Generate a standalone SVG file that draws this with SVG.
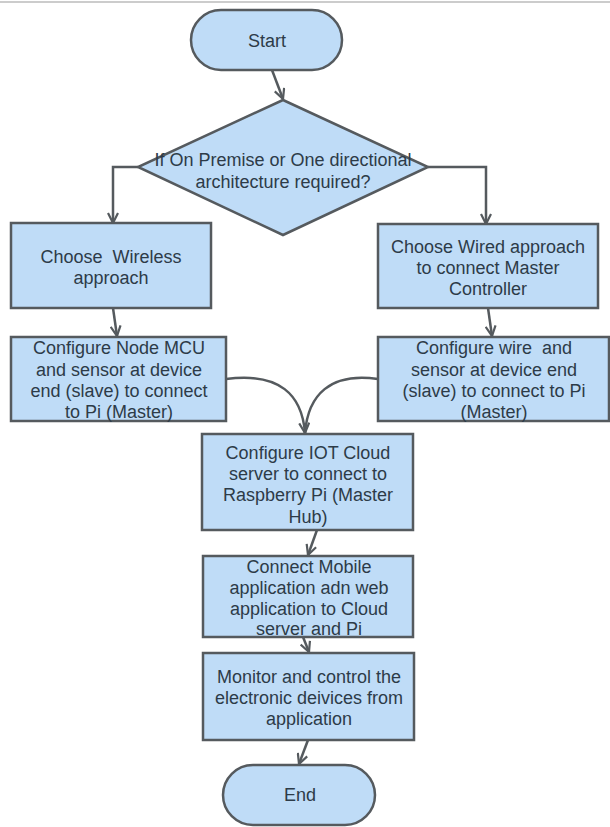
<svg xmlns="http://www.w3.org/2000/svg" width="610" height="827" viewBox="0 0 610 827">
<defs>
<style>
.shape{fill:#bfdcf7;stroke:#555a5e;stroke-width:2.5}
.t{font-family:"Liberation Sans",Arial,sans-serif;font-size:18px;fill:#2d3b48;text-anchor:middle;white-space:pre}
.c{fill:none;stroke:#555a5e;stroke-width:2.5}
</style>
<marker id="ah" viewBox="0 0 12 12" refX="11" refY="6" markerWidth="12" markerHeight="12" markerUnits="userSpaceOnUse" orient="auto">
<path d="M1,1 L11,6 L1,11" fill="none" stroke="#555a5e" stroke-width="2.2"/>
</marker>
</defs>
<rect width="610" height="827" fill="#ffffff"/>
<line x1="0" y1="2" x2="610" y2="2" stroke="#bbbbbb" stroke-width="1.5"/>
<g id="connectors">
<path class="c" d="M272,70 L283,99" marker-end="url(#ah)"/>
<path class="c" d="M138,167 L113,167 L113,223" marker-end="url(#ah)"/>
<path class="c" d="M428,167 L486,167 L486,224" marker-end="url(#ah)"/>
<path class="c" d="M113,308 L117,336" marker-end="url(#ah)"/>
<path class="c" d="M488,308 L492,336" marker-end="url(#ah)"/>
<path class="c" d="M226,379 C280,372 302,395 305,433" marker-end="url(#ah)"/>
<path class="c" d="M378,379 C330,372 308,395 305,433"/>
<path class="c" d="M317,530 L308,555" marker-end="url(#ah)"/>
<path class="c" d="M303,637 L309,652" marker-end="url(#ah)"/>
<path class="c" d="M308,740 L299,764" marker-end="url(#ah)"/>
</g>
<g id="start">
<rect class="shape" x="191" y="10" width="151" height="60" rx="30"/>
<text class="t" x="267" y="47">Start</text>
</g>
<g id="decision">
<polygon class="shape" points="283,100 428,167 283,235 138,167"/>
<text class="t" x="283" y="166">If On Premise or One directional</text>
<text class="t" x="283" y="188">architecture required?</text>
</g>
<g id="wireless">
<rect class="shape" x="11" y="223" width="200" height="85"/>
<text class="t" x="111" y="263" xml:space="preserve">Choose  Wireless</text>
<text class="t" x="111" y="284">approach</text>
</g>
<g id="wired">
<rect class="shape" x="378" y="224" width="220" height="84"/>
<text class="t" x="488" y="253">Choose Wired approach</text>
<text class="t" x="488" y="274">to connect Master</text>
<text class="t" x="488" y="295">Controller</text>
</g>
<g id="nodemcu">
<rect class="shape" x="11" y="337" width="215" height="84"/>
<text class="t" x="119" y="354">Configure Node MCU</text>
<text class="t" x="119" y="376">and sensor at device</text>
<text class="t" x="119" y="397">end (slave) to connect</text>
<text class="t" x="119" y="418">to Pi (Master)</text>
</g>
<g id="wire">
<rect class="shape" x="378" y="337" width="231" height="84"/>
<text class="t" x="494" y="354" xml:space="preserve">Configure wire  and</text>
<text class="t" x="494" y="376">sensor at device end</text>
<text class="t" x="494" y="397">(slave) to connect to Pi</text>
<text class="t" x="494" y="418">(Master)</text>
</g>
<g id="iot">
<rect class="shape" x="202" y="434" width="211" height="96"/>
<text class="t" x="308" y="459">Configure IOT Cloud</text>
<text class="t" x="308" y="480">server to connect to</text>
<text class="t" x="308" y="501">Raspberry Pi (Master</text>
<text class="t" x="308" y="523">Hub)</text>
</g>
<g id="mobile">
<rect class="shape" x="203" y="556" width="210" height="81"/>
<text class="t" x="309" y="573">Connect Mobile</text>
<text class="t" x="309" y="594">application adn web</text>
<text class="t" x="309" y="615">application to Cloud</text>
<text class="t" x="309" y="635">server and Pi</text>
</g>
<g id="monitor">
<rect class="shape" x="203" y="653" width="211" height="87"/>
<text class="t" x="309" y="683">Monitor and control the</text>
<text class="t" x="309" y="704">electronic deivices from</text>
<text class="t" x="309" y="725">application</text>
</g>
<g id="end">
<rect class="shape" x="223" y="765" width="152" height="60" rx="30"/>
<text class="t" x="300" y="801">End</text>
</g>
</svg>
